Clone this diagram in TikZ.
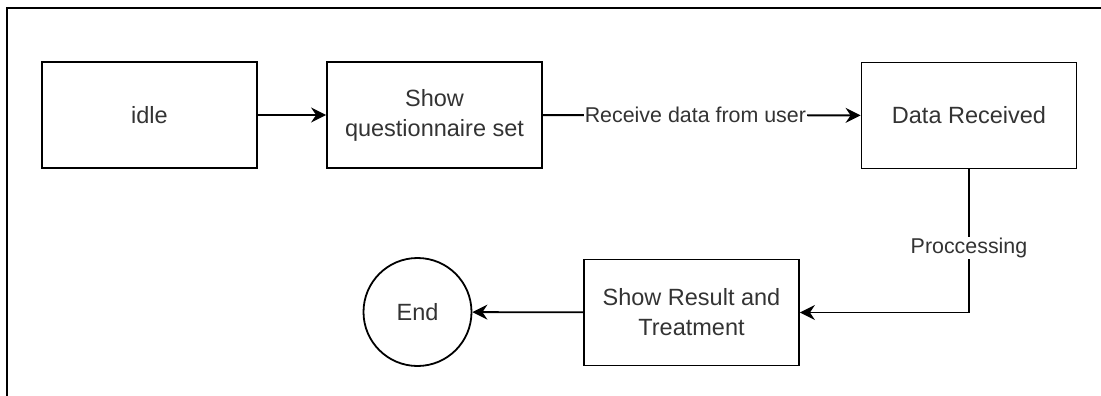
\documentclass[tikz,border=0pt]{standalone}
\usepackage{fontspec}
\setmainfont{Liberation Sans}
\usetikzlibrary{arrows.meta}
\begin{document}
\begin{tikzpicture}[x=1pt,y=-1pt,
  line width=1.8pt,
  statebox/.style={draw, rectangle, inner sep=0pt, minimum width=215pt, minimum height=106pt,
    align=center, font=\fontsize{23.5}{30}\selectfont, text=black!80},
  endstate/.style={draw, circle, inner sep=0pt, minimum size=108pt,
    font=\fontsize{23.5}{30}\selectfont, text=black!80},
  arr/.style={-{Stealth[length=15pt,width=15pt,inset=5pt]}},
  lbl/.style={fill=white, inner sep=1pt, font=\fontsize{21.4}{26}\selectfont, text=black!80}]
  \useasboundingbox (0,0) rectangle (1101,396);
  % page frame
  \draw (7,396) -- (7,8) -- (1101,8);
  % states
  \node[statebox] (idle) at (149.5,115) {idle};
  \node[statebox] (sq) at (434.5,115) {Show\\questionnaire set};
  \node[statebox] (dr) at (969,115.5) {Data Received};
  \node[statebox] (sr) at (691.5,312.5) {Show Result and\\Treatment};
  \node[endstate] (end) at (417.5,312) {End};
  % transitions
  \draw[arr] (idle) -- (sq);
  \draw[arr] (sq) -- node[lbl, pos=0.48] {Receive data from user} (dr);
  \draw[arr] (dr.south) -- node[lbl, pos=0.55] {Proccessing} (dr.south |- sr.east) -- (sr.east);
  \draw[arr] (sr) -- (end);
\end{tikzpicture}
\end{document}
